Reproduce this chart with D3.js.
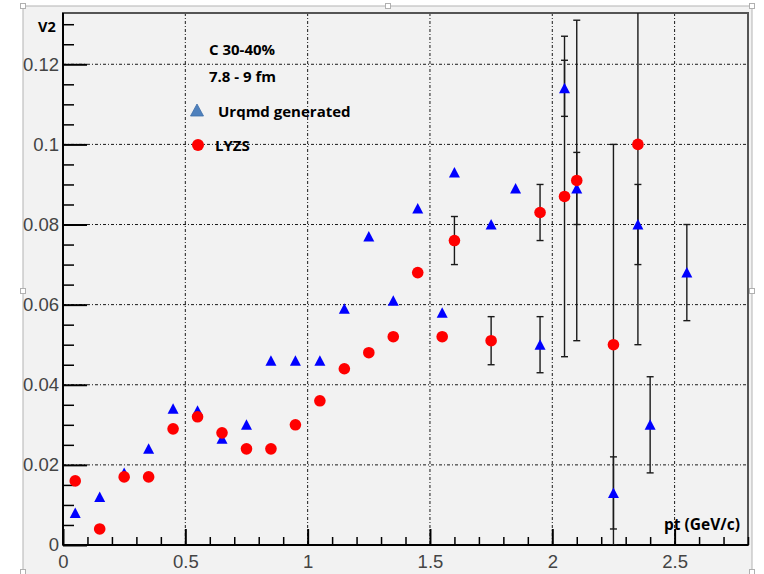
<!DOCTYPE html>
<html>
<head>
<meta charset="utf-8">
<script src="https://cdn.jsdelivr.net/npm/d3@7/dist/d3.min.js"></script>
<style>
  html, body { margin: 0; padding: 0; background: #ffffff; }
  svg { display: block; }
</style>
</head>
<body>
<svg id="chart" width="764" height="574"></svg>
<script>
// Urqmd generated v2 vs pt
const ptUrqmd  = [0.05, 0.15, 0.25, 0.35, 0.45, 0.55, 0.65, 0.75, 0.85, 0.95, 1.05, 1.15, 1.25, 1.35, 1.45, 1.55, 1.6, 1.75, 1.85, 1.95, 2.05, 2.1, 2.25, 2.35, 2.4, 2.55];
const v2Urqmd  = [0.008, 0.012, 0.018, 0.024, 0.034, 0.0335, 0.0265, 0.030, 0.046, 0.046, 0.046, 0.059, 0.077, 0.061, 0.084, 0.058, 0.093, 0.080, 0.089, 0.050, 0.114, 0.089, 0.013, 0.080, 0.030, 0.068];
const errUrqmd = [0, 0, 0, 0, 0, 0, 0, 0, 0, 0, 0, 0, 0, 0, 0, 0, 0, 0, 0, 0.007, 0.007, 0.009, 0.009, 0.010, 0.012, 0.012];

// LYZS v2 vs pt
const ptLyzs  = [0.05, 0.15, 0.25, 0.35, 0.45, 0.55, 0.65, 0.75, 0.85, 0.95, 1.05, 1.15, 1.25, 1.35, 1.45, 1.55, 1.6, 1.75, 1.95, 2.05, 2.1, 2.25, 2.35];
const v2Lyzs  = [0.016, 0.004, 0.017, 0.017, 0.029, 0.032, 0.028, 0.024, 0.024, 0.030, 0.036, 0.044, 0.048, 0.052, 0.068, 0.052, 0.076, 0.051, 0.083, 0.087, 0.091, 0.050, 0.100];
const errLyzs = [0, 0, 0, 0, 0, 0, 0, 0, 0, 0, 0, 0, 0, 0, 0, 0, 0.006, 0.006, 0.007, 0.040, 0.040, 0.050, 0.050];

// Axis ticks
const xMajorTicks = [0, 0.5, 1, 1.5, 2, 2.5];
const xTickLabels = ["0", "0.5", "1", "1.5", "2", "2.5"];
const yMajorTicks = [0, 0.02, 0.04, 0.06, 0.08, 0.1, 0.12];
const yTickLabels = ["0", "0.02", "0.04", "0.06", "0.08", "0.1", "0.12"];

// Annotation text
const headerLines = ["C 30-40%", "7.8 - 9 fm"];
const legendLabels = ["Urqmd generated", "LYZS"];
const yAxisTitle = "V2";
const xAxisTitle = "pt (GeV/c)";

const svg = d3.select("#chart");
const W = 764, H = 574;
const margin = { left: 63, top: 13, right: 16, bottom: 29 };
const iw = W - margin.left - margin.right;   // 685
const ih = H - margin.top - margin.bottom;   // 532

const x = d3.scaleLinear().domain([0, 2.8]).range([0, iw]);
const y = d3.scaleLinear().domain([0, 0.1328]).range([ih, 0]);

// Canvas background with light border
svg.append("rect").attr("x", 23).attr("y", 6).attr("width", 729).attr("height", 580)
  .attr("fill", "#f2f2f2").attr("stroke", "#b4b4b4").attr("stroke-width", 1);

// Small square handles on the canvas border
const handles = [[23, 6], [388, 6], [752, 6], [23, 291], [752, 291], [23, 572], [752, 572]];
svg.append("g").selectAll("rect").data(handles).join("rect")
  .attr("x", d => d[0] - 2.5).attr("y", d => d[1] - 2.5)
  .attr("width", 5).attr("height", 5)
  .attr("fill", "#ffffff").attr("stroke", "#b0b0b0").attr("stroke-width", 1);

const g = svg.append("g").attr("transform", `translate(${margin.left},${margin.top})`);

svg.append("defs").append("clipPath").attr("id", "plotClip")
  .append("rect").attr("x", 0).attr("y", 0).attr("width", iw).attr("height", ih);

// Plot area
g.append("rect").attr("width", iw).attr("height", ih).attr("fill", "#f2f2f2");

// Grid
const gridDash = "3,2,1,2";
g.append("g").selectAll("line").data(yMajorTicks.filter(v => v > 0)).join("line")
  .attr("x1", 0).attr("x2", iw).attr("y1", d => y(d)).attr("y2", d => y(d))
  .attr("stroke", "#1a1a1a").attr("stroke-width", 1).attr("stroke-dasharray", gridDash);
g.append("g").selectAll("line").data(xMajorTicks.filter(v => v > 0)).join("line")
  .attr("y1", 0).attr("y2", ih).attr("x1", d => x(d)).attr("x2", d => x(d))
  .attr("stroke", "#1a1a1a").attr("stroke-width", 1).attr("stroke-dasharray", gridDash);

// Frame
g.append("rect").attr("width", iw).attr("height", ih).attr("fill", "none")
  .attr("stroke", "#555555").attr("stroke-width", 2);

// Minor ticks
const yMinor = d3.range(0, 0.1326, 0.005).filter(v => yMajorTicks.every(m => Math.abs(m - v) > 1e-6));
const xMinor = d3.range(0, 2.801, 0.1).filter(v => xMajorTicks.every(m => Math.abs(m - v) > 1e-6));

const yMinorAxis = g.append("g")
  .call(d3.axisLeft(y).tickValues(yMinor).tickSize(-11).tickFormat(""));
const xMinorAxis = g.append("g").attr("transform", `translate(0,${ih})`)
  .call(d3.axisBottom(x).tickValues(xMinor).tickSize(-8).tickFormat(""));
[yMinorAxis, xMinorAxis].forEach(a => {
  a.select(".domain").remove();
  a.selectAll(".tick line").attr("stroke", "#000").attr("stroke-width", 1.5);
});

// Major ticks and labels
const yAxis = g.append("g")
  .call(d3.axisLeft(y).tickValues(yMajorTicks).tickSize(-24).tickPadding(4)
    .tickFormat((d, i) => yTickLabels[i]));
const xAxis = g.append("g").attr("transform", `translate(0,${ih})`)
  .call(d3.axisBottom(x).tickValues(xMajorTicks).tickSize(-16).tickPadding(6)
    .tickFormat((d, i) => xTickLabels[i]));
[yAxis, xAxis].forEach(a => {
  a.select(".domain").remove();
  a.selectAll(".tick line").attr("stroke", "#000").attr("stroke-width", 2);
  a.selectAll(".tick text")
    .attr("font-family", "'Liberation Sans', Arial, sans-serif")
    .attr("font-size", 18.5).attr("fill", "#444");
});
xAxis.selectAll(".tick text").attr("dy", "0.71em").attr("y", 10);

// Axis lines
g.append("line").attr("x1", 0).attr("x2", 0).attr("y1", 0).attr("y2", ih)
  .attr("stroke", "#000").attr("stroke-width", 2);
g.append("line").attr("x1", 0).attr("x2", iw).attr("y1", ih).attr("y2", ih)
  .attr("stroke", "#000").attr("stroke-width", 2);

// Error bars
const plot = g.append("g").attr("clip-path", "url(#plotClip)");
function errorBars(pts, vals, errs) {
  const data = pts.map((p, i) => ({ p, v: vals[i], e: errs[i] })).filter(d => d.e > 0);
  const eg = plot.append("g").attr("stroke", "#1a1a1a").attr("stroke-width", 1.4);
  data.forEach(d => {
    const cx = x(d.p), y1 = y(d.v + d.e), y2 = y(d.v - d.e);
    eg.append("line").attr("x1", cx).attr("x2", cx).attr("y1", y1).attr("y2", y2);
    eg.append("line").attr("x1", cx - 3.5).attr("x2", cx + 3.5).attr("y1", y1).attr("y2", y1);
    eg.append("line").attr("x1", cx - 3.5).attr("x2", cx + 3.5).attr("y1", y2).attr("y2", y2);
  });
}
errorBars(ptUrqmd, v2Urqmd, errUrqmd);
errorBars(ptLyzs, v2Lyzs, errLyzs);

// Markers
const tri = "M-5.5,5 L5.5,5 L0,-5.5 Z";
plot.append("g").selectAll("path").data(ptUrqmd.map((p, i) => [p, v2Urqmd[i]])).join("path")
  .attr("d", tri)
  .attr("transform", d => `translate(${x(d[0])},${y(d[1])})`)
  .attr("fill", "#0000ff");
plot.append("g").selectAll("circle").data(ptLyzs.map((p, i) => [p, v2Lyzs[i]])).join("circle")
  .attr("cx", d => x(d[0])).attr("cy", d => y(d[1])).attr("r", 5.8)
  .attr("fill", "#ff0000");

// Axis titles
const boldFont = "'Open Sans', Lato, sans-serif";
svg.append("text").attr("x", 38).attr("y", 32).text(yAxisTitle)
  .attr("font-family", boldFont).attr("font-weight", 700).attr("font-size", 14.5).attr("fill", "#000");
svg.append("text").attr("x", 664).attr("y", 530).text(xAxisTitle)
  .attr("font-family", boldFont).attr("font-weight", 700).attr("font-size", 15.5).attr("fill", "#000");

// Header text
svg.append("text").attr("x", 209).attr("y", 55).text(headerLines[0])
  .attr("font-family", boldFont).attr("font-weight", 700).attr("font-size", 15).attr("fill", "#000");
svg.append("text").attr("x", 209).attr("y", 82).text(headerLines[1])
  .attr("font-family", boldFont).attr("font-weight", 700).attr("font-size", 15).attr("fill", "#000");

// Legend
svg.append("path").attr("d", "M-6.5,6 L6.5,6 L0,-6 Z")
  .attr("transform", "translate(197,110)")
  .attr("fill", "#4f81bd").attr("stroke", "#3e6fa8").attr("stroke-width", 0.8);
svg.append("text").attr("x", 218).attr("y", 117).text(legendLabels[0])
  .attr("font-family", boldFont).attr("font-weight", 700).attr("font-size", 15).attr("fill", "#000");
svg.append("circle").attr("cx", 198).attr("cy", 145).attr("r", 6).attr("fill", "#ff0000");
svg.append("text").attr("x", 215).attr("y", 151).text(legendLabels[1])
  .attr("font-family", boldFont).attr("font-weight", 700).attr("font-size", 15).attr("fill", "#000");
</script>
</body>
</html>
